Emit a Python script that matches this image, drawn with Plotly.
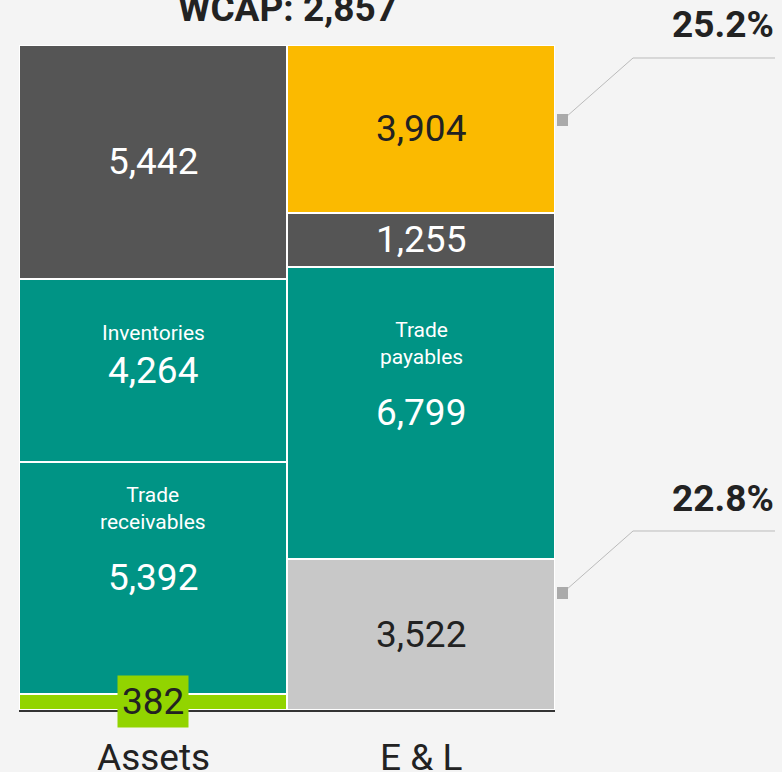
import plotly.graph_objects as go

# ---- data ----
categories = ["Assets", "E & L"]
assets_names = ["Cash", "Trade receivables", "Inventories", "Other assets"]
assets_values = [382, 5392, 4264, 5442]
assets_colors = ["#92D400", "#009485", "#009485", "#555555"]
assets_labels = ["", "Trade<br>receivables", "Inventories", ""]

el_names = ["Other liabilities", "Trade payables", "Other payables", "Equity"]
el_values = [3522, 6799, 1255, 3904]
el_colors = ["#C8C8C8", "#009485", "#555555", "#FBBA00"]
el_labels = ["", "Trade<br>payables", "", ""]

title_text = "WCAP: 2,857"
pct_labels = ["25.2%", "22.8%"]

FONT = "Roboto, Arial, sans-serif"
BG = "#F4F4F4"
DARK = "#222222"
VAL_SIZE = 37
BOLD_SIZE = 37

fig = go.Figure()

def add_stack(cat, names, values, colors):
    for n, v, c in zip(names, values, colors):
        fig.add_trace(go.Bar(
            x=[cat], y=[v], name=n, marker=dict(color=c, line=dict(color="white", width=2)),
            width=1.0, showlegend=False, hoverinfo="skip"))

add_stack(categories[0], assets_names, assets_values, assets_colors)
add_stack(categories[1], el_names, el_values, el_colors)

annotations = []

def add_labels(cat, values, colors, labels, skip_first=False):
    cum = 0
    for i, (v, c, lab) in enumerate(zip(values, colors, labels)):
        mid = cum + v / 2
        cum += v
        txtcol = "white" if c in ("#009485", "#555555") else DARK
        if skip_first and i == 0:
            continue
        annotations.append(dict(x=cat, y=mid, xref="x", yref="y", text=f"{v:,}",
                                showarrow=False, font=dict(family=FONT, size=VAL_SIZE, color=txtcol),
                                yanchor="middle"))
        if lab:
            shift = 69 if "<br>" in lab else 37
            annotations.append(dict(x=cat, y=mid, xref="x", yref="y", text=lab,
                                    showarrow=False, font=dict(family=FONT, size=21, color=txtcol),
                                    yanchor="middle", yshift=shift))

add_labels(categories[0], assets_values, assets_colors, assets_labels, skip_first=True)
add_labels(categories[1], el_values, el_colors, el_labels)

# small value label box (cash)
annotations.append(dict(x=categories[0], y=assets_values[0] / 2, xref="x", yref="y",
                        text=f"{assets_values[0]:,}", showarrow=False,
                        font=dict(family=FONT, size=VAL_SIZE, color=DARK),
                        bgcolor="#92D400", borderpad=4, yanchor="middle"))

# category labels
for cat in categories:
    annotations.append(dict(x=cat, y=0, xref="x", yref="y", text=cat, showarrow=False,
                            font=dict(family=FONT, size=VAL_SIZE, color=DARK), yanchor="middle",
                            yshift=-47))

def px_x(x):
    return (x - 19) / 536.0

def px_y(y):
    return (710 - y) / 665.0

# title
annotations.append(dict(x=0.5, y=px_y(8), xref="paper", yref="paper", text=f"<b>{title_text}</b>",
                        showarrow=False, font=dict(family=FONT, size=BOLD_SIZE, color=DARK),
                        xanchor="center", yanchor="middle"))

# percentage labels
pct_y = [24.5, 498.5]
for lab, yy in zip(pct_labels, pct_y):
    annotations.append(dict(x=px_x(776), y=px_y(yy), xref="paper", yref="paper",
                            text=f"<b>{lab}</b>", showarrow=False,
                            font=dict(family=FONT, size=BOLD_SIZE, color=DARK),
                            xanchor="right", yanchor="middle"))

shapes = []
leader = [(120, 58), (593, 531)]
for my, ly in leader:
    path = f"M {px_x(566)} {px_y(my - 3)} L {px_x(633)} {px_y(ly)} L {px_x(775)} {px_y(ly)}"
    shapes.append(dict(type="path", xref="paper", yref="paper", path=path,
                       line=dict(color="#BBBBBB", width=1)))
    shapes.append(dict(type="rect", xref="paper", yref="paper",
                       x0=px_x(557), x1=px_x(568), y0=px_y(my + 6), y1=px_y(my - 6),
                       fillcolor="#AAAAAA", line=dict(width=0)))

fig.update_layout(
    barmode="stack", bargap=0,
    width=782, height=772,
    margin=dict(l=19, r=227, t=45, b=62),
    paper_bgcolor=BG, plot_bgcolor=BG,
    annotations=annotations, shapes=shapes,
    xaxis=dict(range=[-0.5, 1.5], showticklabels=False, showgrid=False, zeroline=False,
               showline=True, linecolor="#333333", linewidth=2, fixedrange=True),
    yaxis=dict(range=[0, sum(assets_values)], visible=False, showgrid=False, zeroline=False),
    font=dict(family=FONT),
)

fig.write_html("out.html", config={"displayModeBar": False},
               post_script="document.body.style.margin='0';document.body.style.background='#F4F4F4';")
